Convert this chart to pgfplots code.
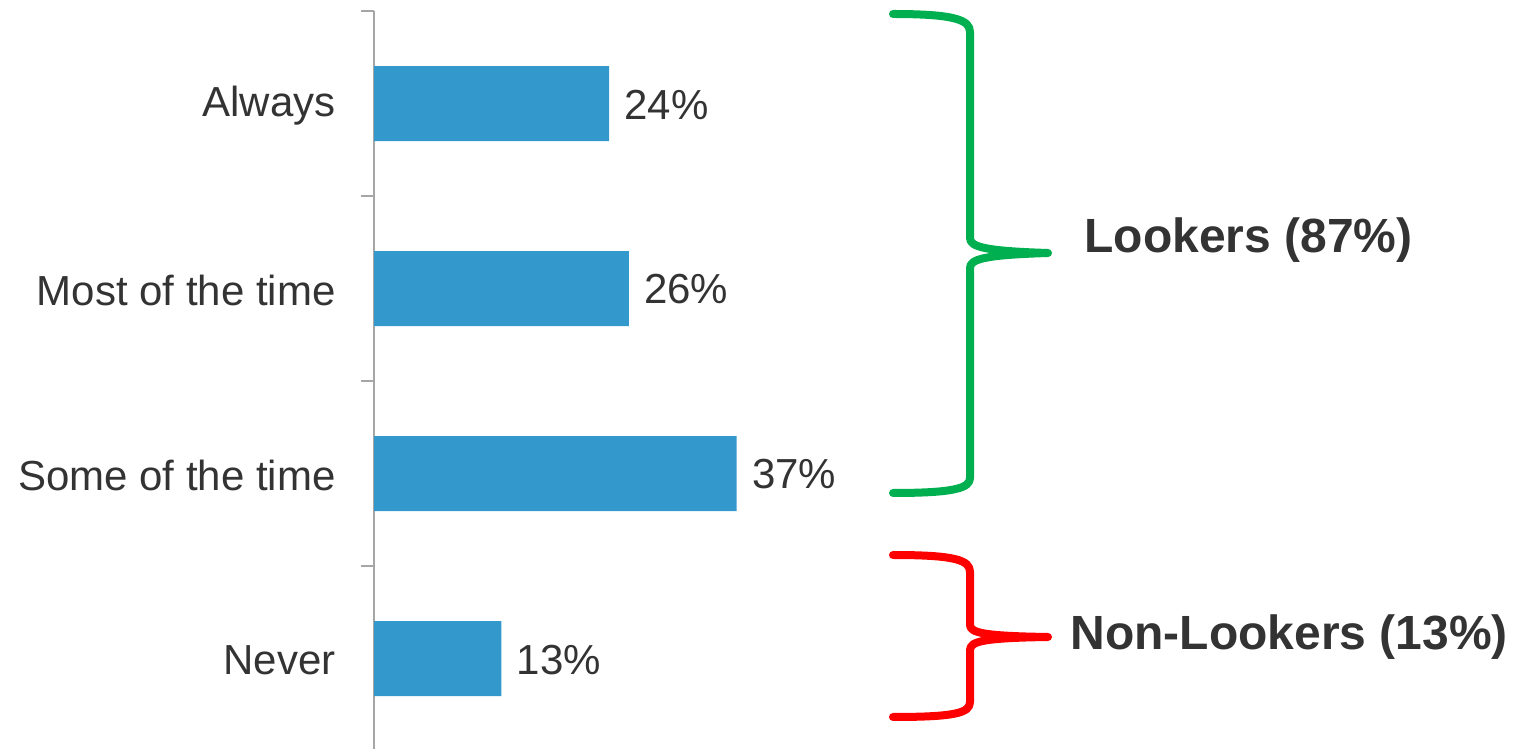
\documentclass[border=0pt]{standalone}
\usepackage{pgfplots}
\pgfplotsset{compat=1.18}
\usepackage{fontspec}
\setmainfont{Liberation Sans}
\definecolor{barblue}{HTML}{3398CC}
\definecolor{axgray}{HTML}{A6A6A6}
\definecolor{txt}{HTML}{333333}
\definecolor{bgreen}{HTML}{00B050}
\definecolor{bred}{HTML}{FF0000}
\begin{document}
\begin{tikzpicture}
\begin{axis}[
  scale only axis,
  width=490bp, height=369bp,
  xmin=0, xmax=100,
  ymin=-0.5, ymax=3.489,
  y dir=reverse,
  enlargelimits=false,
  axis x line=none,
  axis y line*=left,
  axis line style={axgray, line width=1bp},
  ytick={0,1,2,3},
  yticklabels={Always, Most of the time, Some of the time, Never},
  minor ytick={-0.5,0.5,1.5,2.5},
  tick align=outside,
  major tick length=0pt,
  minor tick length=6.5bp,
  minor tick style={axgray, line width=1bp},
  yticklabel style={font=\fontsize{21bp}{25bp}\selectfont, text=txt, inner sep=0pt, xshift=-19bp, yshift=-1bp, anchor=east},
  /pgf/number format/assume math mode=true,
  clip=false,
]
\addplot[xbar, fill=barblue, draw=none, bar width=37.5bp,
  point meta=x,
  nodes near coords={\pgfmathprintnumber{\pgfplotspointmeta}\%},
  nodes near coords align=horizontal,
  every node near coord/.append style={font=\fontsize{21bp}{25bp}\selectfont, text=txt, inner sep=0pt, xshift=7.5bp, yshift=-0.5bp, anchor=west}]
  coordinates {(24,0) (26,1) (37,2) (13,3)};
\end{axis}
\begin{scope}[x=0.5bp, y=-0.5bp, shift={(-187bp,374.5bp)}]
\path (0,0) rectangle (1516,749);
\draw[bgreen, line width=4bp, line cap=round, line join=round]
  (893,14) .. controls (955,14) and (970,20) .. (970,32) -- (970,238)
  .. controls (970,247) and (985,251) .. (1048,253)
  .. controls (985,255) and (970,259) .. (970,268) -- (970,478)
  .. controls (970,488) and (955,493) .. (893,493);
\draw[bred, line width=4bp, line cap=round, line join=round]
  (893,555) .. controls (955,555) and (970,560) .. (970,572) -- (970,625)
  .. controls (970,633) and (985,636) .. (1048,637)
  .. controls (985,638) and (970,641) .. (970,650) -- (970,702)
  .. controls (970,713) and (955,717) .. (893,717);
\node[anchor=west, inner sep=0pt, text=txt, font=\fontsize{24bp}{28bp}\selectfont\bfseries] at (1084,240) {Lookers (87\%)};
\node[anchor=west, inner sep=0pt, text=txt, font=\fontsize{24bp}{28bp}\selectfont\bfseries] at (1070,637) {Non-Lookers (13\%)};
\end{scope}
\end{tikzpicture}
\end{document}
